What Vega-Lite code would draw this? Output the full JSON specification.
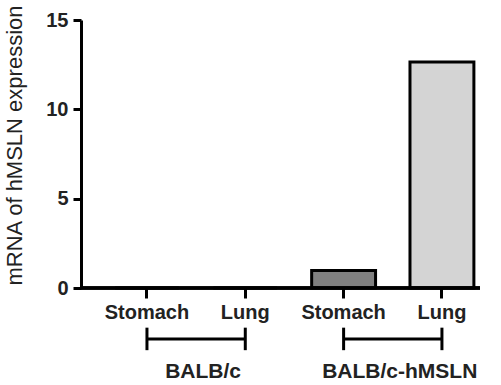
{
  "$schema": "https://vega.github.io/schema/vega-lite/v6.json",
  "width": 399,
  "height": 268,
  "autosize": {"type": "none"},
  "padding": {"left": 81, "top": 20, "right": 21, "bottom": 97},
  "config": {"view": {"stroke": null}, "font": "Liberation Sans"},
  "datasets": {
    "bars": [
      {"group": "BALB/c", "tissue": "Stomach", "key": "BALB/c|Stomach", "value": 0},
      {"group": "BALB/c", "tissue": "Lung", "key": "BALB/c|Lung", "value": 0},
      {"group": "BALB/c-hMSLN", "tissue": "Stomach", "key": "BALB/c-hMSLN|Stomach", "value": 0.98},
      {"group": "BALB/c-hMSLN", "tissue": "Lung", "key": "BALB/c-hMSLN|Lung", "value": 12.65}
    ],
    "groups": [
      {"group": "BALB/c", "start": "BALB/c|Stomach", "end": "BALB/c|Lung"},
      {"group": "BALB/c-hMSLN", "start": "BALB/c-hMSLN|Stomach", "end": "BALB/c-hMSLN|Lung"}
    ]
  },
  "layer": [
    {
      "data": {"name": "bars"},
      "mark": {"type": "bar", "width": {"band": 0.65}, "stroke": "black", "strokeWidth": 3},
      "encoding": {
        "x": {
          "field": "key", "type": "nominal", "sort": null,
          "scale": {"paddingInner": 0, "paddingOuter": 0, "range": [16.8, 410.1]},
          "axis": {
            "title": null, "domain": false, "labelAngle": 0,
            "labelExpr": "split(datum.label, '|')[1]",
            "labelFont": "Liberation Sans", "labelFontSize": 20, "labelFontWeight": "bold",
            "labelColor": "#222", "labelPadding": 4,
            "tickColor": "black", "tickWidth": 3, "tickSize": 10
          }
        },
        "y": {
          "field": "value", "type": "quantitative",
          "scale": {"domain": [0, 15], "nice": false},
          "axis": {
            "title": "mRNA of hMSLN expression", "values": [0, 5, 10, 15], "grid": false,
            "domainColor": "black", "domainWidth": 3,
            "tickColor": "black", "tickWidth": 3, "tickSize": 8,
            "labelFont": "Liberation Sans", "labelFontSize": 20, "labelFontWeight": "bold",
            "labelColor": "#222", "labelPadding": 5,
            "titleFont": "Liberation Sans", "titleFontSize": 22, "titleFontWeight": "normal",
            "titleColor": "#222", "titlePadding": 19, "titleY": 125
          }
        },
        "fill": {
          "field": "key", "type": "nominal", "legend": null,
          "scale": {
            "domain": ["BALB/c|Stomach", "BALB/c|Lung", "BALB/c-hMSLN|Stomach", "BALB/c-hMSLN|Lung"],
            "range": ["#ffffff", "#ffffff", "#808080", "#d4d4d4"]
          }
        }
      }
    },
    {
      "data": {"name": "bars"},
      "mark": {"type": "rule", "color": "black", "strokeWidth": 3},
      "encoding": {"y": {"datum": 0}}
    },
    {
      "data": {"name": "groups"},
      "mark": {"type": "rule", "color": "black", "strokeWidth": 3, "clip": false},
      "encoding": {
        "x": {"field": "start", "type": "nominal", "sort": null},
        "x2": {"field": "end"},
        "y": {"datum": -2.85}
      }
    },
    {
      "data": {"name": "bars"},
      "mark": {"type": "rule", "color": "black", "strokeWidth": 3},
      "encoding": {
        "x": {"field": "key", "type": "nominal", "sort": null},
        "y": {"datum": -2.22},
        "y2": {"datum": -3.48}
      }
    },
    {
      "data": {"name": "groups"},
      "mark": {"type": "text", "font": "Liberation Sans", "fontSize": 21, "fontWeight": "bold", "color": "#222", "baseline": "middle", "dx": 7},
      "encoding": {
        "x": {"field": "start", "type": "nominal", "sort": null, "bandPosition": 1},
        "y": {"datum": -4.7},
        "text": {"field": "group"}
      }
    }
  ]
}
